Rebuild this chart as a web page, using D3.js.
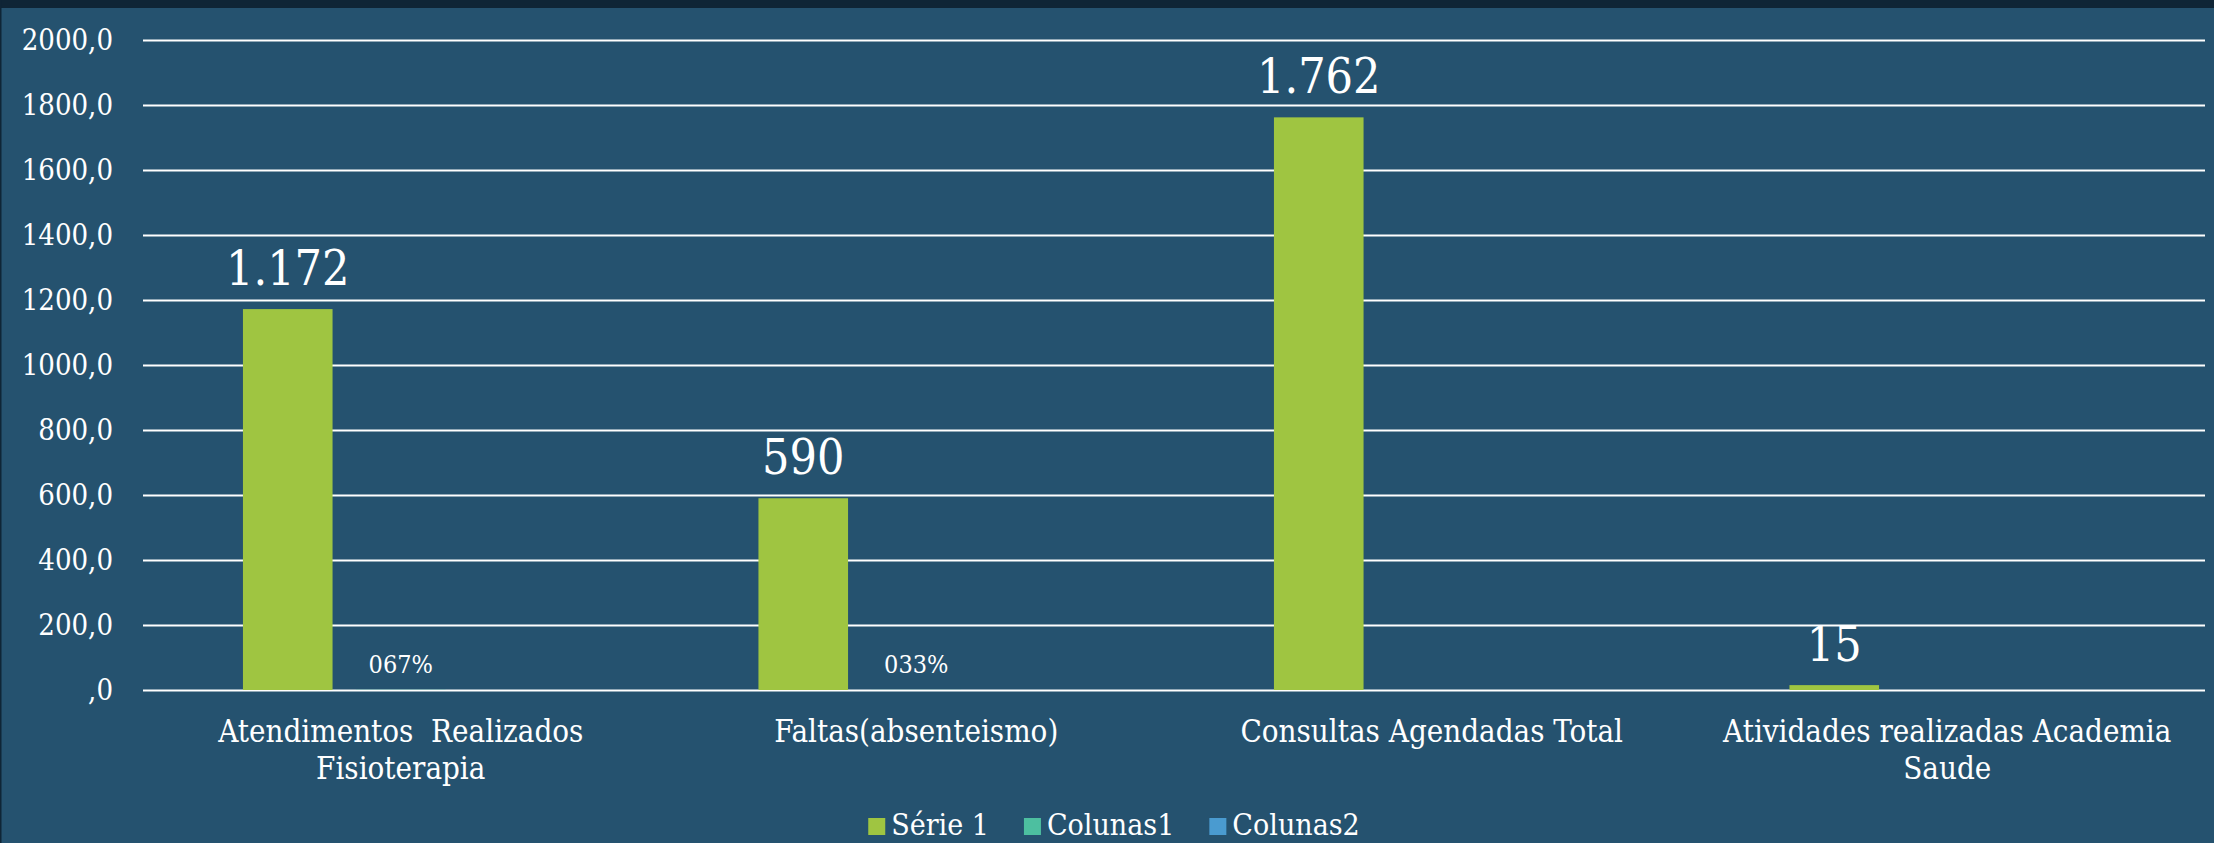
<!DOCTYPE html>
<html>
<head>
<meta charset="utf-8">
<script src="https://cdn.jsdelivr.net/npm/d3@7"></script>
<style>
  html, body { margin: 0; padding: 0; background: #25526f; }
  svg { display: block; }
  text { font-family: "DejaVu Serif Condensed", "DejaVu Serif", serif; fill: #ffffff; white-space: pre; }
</style>
</head>
<body>
<svg id="chart" width="2214" height="843"></svg>
<script>
// ---- data ----
const categories = [
  "Atendimentos  Realizados\nFisioterapia",
  "Faltas(absenteismo)",
  "Consultas Agendadas Total",
  "Atividades realizadas Academia\nSaude"
];
const seriesNames = ["Série 1", "Colunas1", "Colunas2"];
const serie1 = [1172, 590, 1762, 15];
const colunas1 = [0.67, 0.33, null, null];
const colunas1Labels = ["067%", "033%", null, null];
const colunas2 = [null, null, null, null];
const yTicks = [0, 200, 400, 600, 800, 1000, 1200, 1400, 1600, 1800, 2000];
const yTickLabels = [",0", "200,0", "400,0", "600,0", "800,0", "1000,0", "1200,0", "1400,0", "1600,0", "1800,0", "2000,0"];
const colors = ["#9fc541", "#4dbfa0", "#4a9bd0"];

// ---- layout ----
const W = 2214, H = 843;
const plot = { left: 143, right: 2205, top: 40, bottom: 690 };
const svg = d3.select("#chart");

// background & frame
svg.append("rect").attr("x", 0).attr("y", 0).attr("width", W).attr("height", H).attr("fill", "#25526f");
svg.append("rect").attr("x", 0).attr("y", 0).attr("width", W).attr("height", 8).attr("fill", "#0f2536");
svg.append("rect").attr("x", 0).attr("y", 0).attr("width", 1.5).attr("height", H).attr("fill", "#0f2536");

const x = d3.scaleBand().domain(categories).range([plot.left, plot.right]).padding(0);
const y = d3.scaleLinear().domain([0, 2000]).range([plot.bottom, plot.top]);
const clusterHalf = 157.8;
const xs = d3.scaleBand().domain(seriesNames).range([-clusterHalf, clusterHalf]).paddingInner(0.207).paddingOuter(0);

const ptFmt = d3.formatLocale({ decimal: ",", thousands: ".", grouping: [3], currency: ["R$", ""] }).format(",d");

// grid lines + y tick labels via axis
const yAxis = d3.axisLeft(y).tickValues(yTicks)
  .tickFormat((d, i) => yTickLabels[i])
  .tickSize(-(plot.right - plot.left)).tickPadding(30);
const gy = svg.append("g").attr("transform", `translate(${plot.left},0)`).call(yAxis);
gy.select(".domain").remove();
gy.selectAll(".tick line").attr("stroke", "#ffffff").attr("stroke-width", 2);
gy.selectAll(".tick text").attr("font-size", 29).attr("fill", "#ffffff")
  .style("font-family", '"DejaVu Serif Condensed", "DejaVu Serif", serif');

// bars
const seriesData = [serie1, colunas1, colunas2];
seriesData.forEach((vals, si) => {
  const data = vals.map((v, i) => ({ cat: categories[i], v })).filter(d => d.v != null);
  svg.append("g").selectAll("rect").data(data).join("rect")
    .attr("x", d => x(d.cat) + x.bandwidth() / 2 + xs(seriesNames[si]))
    .attr("y", d => y(d.v))
    .attr("width", xs.bandwidth())
    .attr("height", d => y(0) - y(d.v))
    .attr("fill", colors[si]);
});

// data labels Série 1
svg.append("g").selectAll("text").data(serie1.map((v, i) => ({ cat: categories[i], v }))).join("text")
  .attr("x", d => x(d.cat) + x.bandwidth() / 2 + xs("Série 1") + xs.bandwidth() / 2)
  .attr("y", d => y(d.v) - 24)
  .attr("text-anchor", "middle")
  .attr("font-size", 48)
  .text(d => ptFmt(d.v));

// data labels Colunas1
svg.append("g").selectAll("text")
  .data(colunas1.map((v, i) => ({ cat: categories[i], v, lab: colunas1Labels[i] })).filter(d => d.v != null))
  .join("text")
  .attr("x", d => x(d.cat) + x.bandwidth() / 2 + xs("Colunas1") + xs.bandwidth() / 2)
  .attr("y", d => y(d.v) - 17)
  .attr("text-anchor", "middle")
  .attr("font-size", 25)
  .text(d => d.lab);

// category labels
const gc = svg.append("g");
categories.forEach(c => {
  const lines = c.split("\n");
  const t = gc.append("text")
    .attr("x", x(c) + x.bandwidth() / 2)
    .attr("y", 742)
    .attr("text-anchor", "middle")
    .attr("font-size", 31);
  lines.forEach((ln, li) => {
    t.append("tspan").attr("x", x(c) + x.bandwidth() / 2).attr("dy", li === 0 ? 0 : 36.5).text(ln);
  });
});

// legend
const leg = svg.append("g");
let cursor = 0;
seriesNames.forEach((s, i) => {
  const g = leg.append("g");
  g.append("rect").attr("x", 0).attr("y", -17).attr("width", 17).attr("height", 17).attr("fill", colors[i]);
  const t = g.append("text").attr("x", 23).attr("y", 0).attr("font-size", 30).text(s);
  const w = 23 + t.node().getComputedTextLength();
  g.attr("transform", `translate(${cursor},0)`);
  cursor += w + 35;
});
const legW = cursor - 35;
leg.attr("transform", `translate(${1114 - legW / 2},835)`);
</script>
</body>
</html>
